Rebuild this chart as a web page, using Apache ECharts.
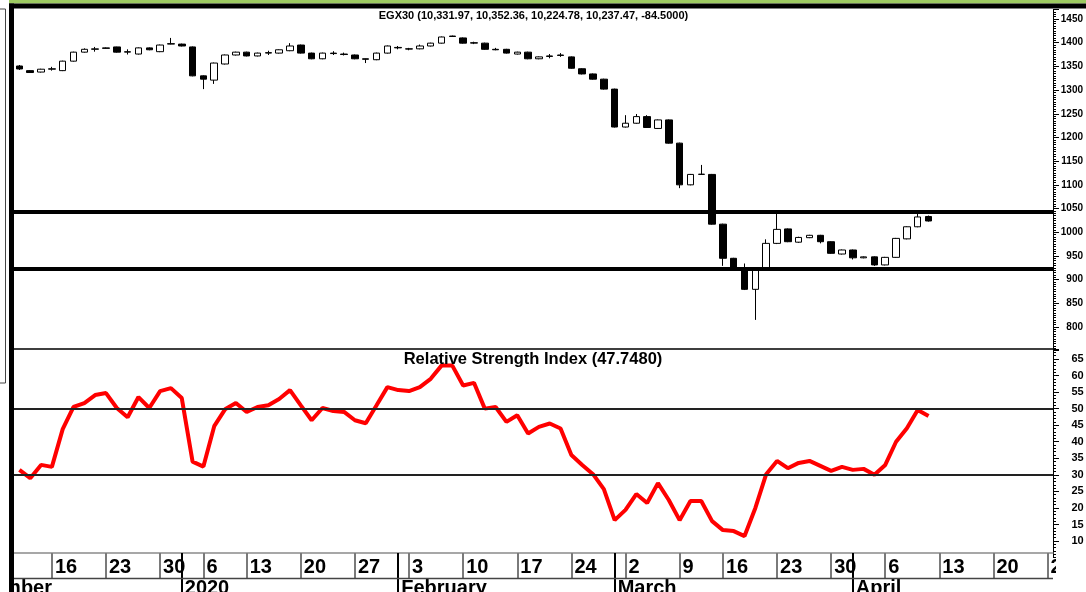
<!DOCTYPE html>
<html><head><meta charset="utf-8">
<style>html,body{margin:0;padding:0;background:#fff;overflow:hidden}#c{width:1086px;height:592px}</style>
<script src="https://cdn.jsdelivr.net/npm/echarts@6.0.0/dist/echarts.min.js"></script>
</head><body><div id="c"></div>
<script>
// ---- data ----
const tradingDays = ['2019-12-11','2019-12-12','2019-12-15','2019-12-16','2019-12-17','2019-12-18','2019-12-19','2019-12-22','2019-12-23','2019-12-24','2019-12-25','2019-12-26','2019-12-29','2019-12-30','2019-12-31',
'2020-01-02','2020-01-05','2020-01-06','2020-01-08','2020-01-09','2020-01-12','2020-01-13','2020-01-14','2020-01-15','2020-01-16','2020-01-19','2020-01-20','2020-01-21','2020-01-22','2020-01-23','2020-01-26','2020-01-27','2020-01-28','2020-01-29','2020-01-30',
'2020-02-02','2020-02-03','2020-02-04','2020-02-05','2020-02-06','2020-02-09','2020-02-10','2020-02-11','2020-02-12','2020-02-13','2020-02-16','2020-02-17','2020-02-18','2020-02-19','2020-02-20','2020-02-23','2020-02-24','2020-02-25','2020-02-26','2020-02-27',
'2020-03-01','2020-03-02','2020-03-03','2020-03-04','2020-03-05','2020-03-08','2020-03-09','2020-03-10','2020-03-11','2020-03-12','2020-03-15','2020-03-16','2020-03-17','2020-03-18','2020-03-19','2020-03-22','2020-03-23','2020-03-24','2020-03-25','2020-03-26','2020-03-29','2020-03-30','2020-03-31',
'2020-04-01','2020-04-02','2020-04-05','2020-04-06','2020-04-07','2020-04-08','2020-04-09'];
const futureDays = ['2020-04-12','2020-04-13','2020-04-14','2020-04-15','2020-04-16','2020-04-19','2020-04-20','2020-04-21','2020-04-22','2020-04-23','2020-04-26'];

const opens  = [1350.8,1341,1338,1344,1341,1361,1380,1386,1389,1391,1380,1376,1389,1381,1397,1397,1391,1330,1321,1355,1374,1380,1372,1378,1378,1383,1395,1378,1366,1378,1376,1374,1366,1364,1378,1390,1387,1387,1393,1399,1414,1410,1399,1399,1386,1386,1376,1380,1366,1372,1374,1370,1345,1334,1323,1302,1222,1230,1244,1219,1237,1188,1100,1122,1122,1017,945,920,879.5,924,976.5,1007,979,988.5,993.5,980,954,962.5,946,948,931,947,986,1011.5,1033.2];
const closes = [1344.5,1337,1344,1345,1361,1380,1386,1387,1388,1380,1381,1389,1385,1395,1398,1393,1330,1323,1357,1374,1380,1372,1378,1379,1385,1393,1378,1366,1378,1377,1375,1366,1365,1378,1393,1389,1386.5,1393,1399,1412,1413,1399,1400,1386,1385,1378,1380,1366,1370,1371,1373,1346,1334,1323,1302,1222,1230,1244,1221,1237,1188,1100,1122,1122.5,1017,945,920,879.5,920,976.5,1006,980,989,993.5,980,955.5,962.5,946,948,931,947,987,1011.5,1032.2,1023.7];
const lows   = [1342.4,1336,1337,1341,1340,1360,1379,1381,1387.5,1379,1375,1375,1384,1380,1396.5,1392,1329,1302,1313,1354,1373,1371,1371,1374,1377,1382,1377,1365,1365,1374,1373,1365,1357,1363,1377,1386,1384,1386,1392,1398,1412,1398,1397,1385,1384,1377,1375,1365,1365,1367,1370,1345,1333,1322,1301,1221,1221,1229,1220,1218,1187,1093,1099,1121,1016,929,919,878,815,922,975,979,977.5,987.5,976.5,954.5,953,942.5,945,929,930,946,985,1010.5,1022.5];
const highs  = [1352.9,1342,1345,1349,1362,1381,1388,1391,1390,1391.5,1386,1390,1390,1396,1410,1398,1392,1331,1358,1375,1381,1381,1379,1383,1386,1399,1396,1379,1379,1382,1379,1375,1366.5,1379,1394,1393,1389,1396,1400,1413,1415,1411,1402,1400,1389,1387,1381,1381,1371,1376,1378,1371,1346,1335,1324,1303,1247,1249.5,1247,1238,1238,1189,1123,1142,1123,1018,946,934,921,985,1041,1008,990.5,994.5,994.5,981,963.5,963.5,949,949,948,988,1012.5,1040,1035.2];

const rsi = [31.5,29,33,32.4,43.8,50.5,51.7,54.1,54.7,50.2,47.4,53.5,50.2,55.3,56.2,53.2,34,32.5,44.7,49.8,51.7,49,50.5,51,52.9,55.6,51,46.5,50.2,49.3,49,46.5,45.6,51,56.5,55.6,55.3,56.5,59,63,63,57,57.8,50,50.5,46,48,42.5,44.5,45.5,44,36,33,30.2,25.7,16.3,19.4,24.2,21.5,27.5,22.4,16.3,22.1,22.1,16,13.3,13,11.5,20,30.2,34.2,32,33.6,34.2,32.7,31.2,32.4,31.5,31.8,30,33,40,44.1,49.6,47.75];

const priceLevels = [1042.7, 922.4];
const rsiLevels = [50, 30];

const weekTickIdx  = [3,8,13,17,21,26,31,36,41,46,51,56,61,65,70,75,80,85,90,95];
const weekTickText = ['16','23','30','6','13','20','27','3','10','17','24','2','9','16','23','30','6','13','20','27'];
const monthTickIdx  = [15,35,55,77];
const monthTickText = ['2020','February','March','April'];
const leadMonthText = 'December';

const priceTitle = 'EGX30 (10,331.97, 10,352.36, 10,224.78, 10,237.47, -84.5000)';
const rsiTitle = 'Relative Strength Index (47.7480)';

// ---- build ----
const cats = tradingDays.concat(futureDays);
const ohlc = opens.map((o, i) => [o, closes[i], lows[i], highs[i]]);
const weekMap = {}; weekTickIdx.forEach((k, j) => weekMap[k] = weekTickText[j]);
const monthMap = {}; monthTickIdx.forEach((k, j) => monthMap[k] = monthTickText[j]);
const FONT = "'Liberation Sans', Arial, sans-serif";

const chart = echarts.init(document.getElementById('c'), null, {renderer: 'canvas'});
chart.setOption({
  animation: false,
  backgroundColor: '#fff',
  title: [
    {text: priceTitle, left: 533.5, top: 10.5, textAlign: 'center', padding: 0,
     textStyle: {fontSize: 11, fontWeight: 'bold', color: '#000', fontFamily: FONT}},
    {text: rsiTitle, left: 533, top: 350.5, textAlign: 'center', padding: 0,
     textStyle: {fontSize: 16.5, fontWeight: 'bold', color: '#000', fontFamily: FONT}}
  ],
  grid: [
    {left: 14, right: 33, top: 9.5, height: 341.2, containLabel: false, outerBoundsMode: 'none'},
    {left: 14, right: 33, top: 349.07, height: 208.5, containLabel: false, outerBoundsMode: 'none'}
  ],
  xAxis: [
    {type: 'category', gridIndex: 0, data: cats, boundaryGap: true, show: false},
    {type: 'category', gridIndex: 1, data: cats, boundaryGap: true, position: 'bottom', offset: -4.5,
     axisLine: {show: true, lineStyle: {color: '#8a8a8a', width: 1.5}},
     axisTick: {show: true, alignWithLabel: true, length: 25, interval: (i) => weekMap[i] !== undefined,
                lineStyle: {color: '#7a7a7a', width: 2}},
     axisLabel: {show: true, interval: (i) => weekMap[i] !== undefined, formatter: (v, i) => weekMap[i] || '',
                 align: 'left', padding: [0, 0, 0, 3], margin: 14, verticalAlign: 'middle',
                 fontSize: 20, fontWeight: 'bold', color: '#000', fontFamily: FONT},
     splitLine: {show: false}},
    {type: 'category', gridIndex: 1, data: cats, boundaryGap: true, position: 'bottom', offset: -4.5,
     axisLine: {show: false},
     axisTick: {show: true, alignWithLabel: true, length: 40, interval: (i) => monthMap[i] !== undefined,
                lineStyle: {color: '#000', width: 2}},
     axisLabel: {show: true, interval: (i) => monthMap[i] !== undefined, formatter: (v, i) => monthMap[i] || '',
                 align: 'left', padding: [0, 0, 0, 3], margin: 35, verticalAlign: 'middle',
                 fontSize: 20, fontWeight: 'bold', color: '#000', fontFamily: FONT},
     splitLine: {show: false}},
    {type: 'category', gridIndex: 1, data: cats, boundaryGap: true, position: 'top',
     axisLine: {show: true, lineStyle: {color: '#000', width: 1.5}},
     axisTick: {show: false}, axisLabel: {show: false}, splitLine: {show: false}}
  ],
  yAxis: [
    {type: 'value', gridIndex: 0, position: 'right', min: 750, max: 1470, interval: 50,
     axisLine: {show: true, lineStyle: {color: '#000', width: 1}},
     axisTick: {show: true, length: 6, lineStyle: {color: '#000'}},
     minorTick: {show: true, splitNumber: 10, length: 3, lineStyle: {color: '#000'}},
     splitLine: {show: false}, minorSplitLine: {show: false},
     axisLabel: {formatter: (v) => (v >= 800 && v <= 1450) ? String(v) : '', align: 'right', margin: 30,
                 fontSize: 10, fontWeight: 'bold', color: '#000', fontFamily: FONT}},
    {type: 'value', gridIndex: 1, position: 'right', min: 5, max: 68, interval: 5,
     axisLine: {show: true, lineStyle: {color: '#000', width: 1}},
     axisTick: {show: true, length: 6, lineStyle: {color: '#000'}},
     minorTick: {show: true, splitNumber: 5, length: 3, lineStyle: {color: '#000'}},
     splitLine: {show: false}, minorSplitLine: {show: false},
     axisLabel: {formatter: (v) => (v >= 10 && v <= 65) ? String(v) : '', align: 'left', margin: 18.5,
                 fontSize: 11, fontWeight: 'bold', color: '#000', fontFamily: FONT}}
  ],
  series: [
    {type: 'candlestick', xAxisIndex: 0, yAxisIndex: 0, data: ohlc, barWidth: 7,
     itemStyle: {color: '#fff', color0: '#000', borderColor: '#000', borderColor0: '#000', borderWidth: 1},
     markLine: {silent: true, symbol: ['none', 'none'], label: {show: false},
                lineStyle: {color: '#000', width: 4, type: 'solid'},
                data: priceLevels.map(v => ({yAxis: v}))}},
    {type: 'line', xAxisIndex: 1, yAxisIndex: 1, data: rsi, showSymbol: false, symbol: 'none',
     lineStyle: {color: '#ff0000', width: 4}, itemStyle: {color: '#ff0000'}, z: 3,
     markLine: {silent: true, symbol: ['none', 'none'], label: {show: false},
                lineStyle: {color: '#222', width: 2, type: 'solid'},
                data: rsiLevels.map(v => ({yAxis: v}))}}
  ],
  graphic: [
    {type: 'text', z: 5, style: {text: leadMonthText, x: 52, y: 588, align: 'right', verticalAlign: 'middle',
      fontSize: 20, fontWeight: 'bold', fontFamily: FONT, fill: '#000'}},
    {type: 'rect', z: 10, shape: {x: 0, y: 0, width: 9, height: 592}, style: {fill: '#fff'}},
    {type: 'line', z: 11, shape: {x1: 5.5, y1: 9, x2: 5.5, y2: 383}, style: {stroke: '#444', lineWidth: 1}},
    {type: 'line', z: 11, shape: {x1: 0, y1: 9, x2: 5.5, y2: 9}, style: {stroke: '#444', lineWidth: 1}},
    {type: 'line', z: 11, shape: {x1: 0, y1: 383, x2: 5.5, y2: 383}, style: {stroke: '#444', lineWidth: 1}},
    {type: 'rect', z: 10, shape: {x: 9, y: 0, width: 1077, height: 3.5}, style: {fill: '#9ecb62'}},
    {type: 'rect', z: 10, shape: {x: 9, y: 3.5, width: 1077, height: 5}, style: {fill: '#000'}},
    {type: 'rect', z: 10, shape: {x: 9, y: 3.5, width: 5, height: 588.5}, style: {fill: '#000'}},
    {type: 'line', z: 10, shape: {x1: 14, y1: 578.5, x2: 1053, y2: 578.5}, style: {stroke: '#444', lineWidth: 1.5}},
    {type: 'rect', z: 10, shape: {x: 1056, y: 554, width: 30, height: 38}, style: {fill: '#fff'}}
  ]
});
</script></body></html>
